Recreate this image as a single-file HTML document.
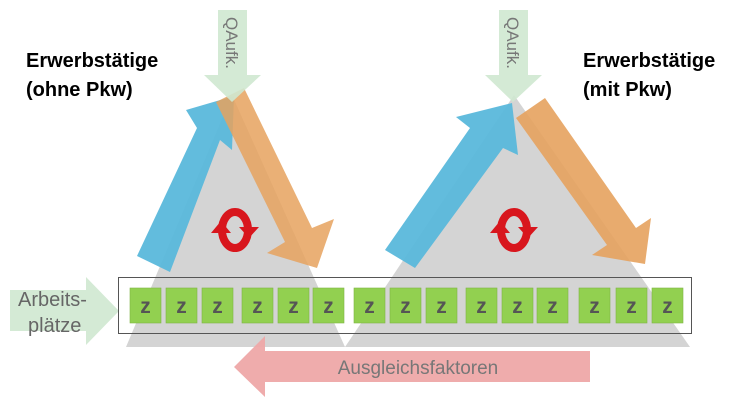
<!DOCTYPE html>
<html><head><meta charset="utf-8"><style>
html,body{margin:0;padding:0;background:#fff}
svg{display:block}
</style></head><body>
<svg width="750" height="404" viewBox="0 0 750 404" xmlns="http://www.w3.org/2000/svg" font-family="Liberation Sans, sans-serif">
<defs>
<g id="cyc">
<ellipse cx="0" cy="0" rx="13" ry="18" fill="none" stroke="#d8161d" stroke-width="8"/>
<polygon points="-24,3 -14,-9 -4,3" fill="#d8161d"/>
<polygon points="4,-3 24,-3 14,8" fill="#d8161d"/>
</g>
</defs>
<polygon points="232,95 345,347 126,347" fill="#d4d4d4"/>
<polygon points="514,95 690,347 345,347" fill="#d4d4d4"/>
<polygon points="137,256 197,128 186,110 234,96 232,150 220,140 170,272" fill="#5ab8db" opacity="0.95"/>
<polygon points="216,102 244,88 312,228 334,219 317,268 267,253 285,242" fill="#e6a25e" opacity="0.85"/>
<polygon points="385,250 470,128 456,117 512,103 518,155 503,148 415,268" fill="#5ab8db" opacity="0.95"/>
<polygon points="516,118 545,98 636,228 651,218 645,264 592,255 607,245" fill="#e6a25e" opacity="0.9"/>
<g fill="#cfe8d0" opacity="0.9">
<polygon points="218,10 247,10 247,75 261,75 232,102 204,75 218,75"/>
<polygon points="499,10 528,10 528,75 542,75 513,102 485,75 499,75"/>
</g>
<text transform="translate(226,17) rotate(90)" font-size="17" fill="#777">QAufk.</text>
<text transform="translate(507,17) rotate(90)" font-size="17" fill="#777">QAufk.</text>
<use href="#cyc" x="235" y="230"/>
<use href="#cyc" x="514" y="230"/>
<polygon points="10,290 86,290 86,277 119,311 86,345 86,331 10,331" fill="#cfe8d0" opacity="0.9"/>
<text x="18" y="306" font-size="20" fill="#666">Arbeits-</text>
<text x="28" y="332" font-size="20" fill="#666">plätze</text>
<rect x="118.5" y="277.5" width="573" height="56" fill="none" stroke="#555" stroke-width="1"/>
<g fill="#92d050" stroke="#7fb445" stroke-width="0.6">
<rect x="130" y="288" width="31" height="35"/><rect x="166" y="288" width="31" height="35"/><rect x="202" y="288" width="31" height="35"/>
<rect x="242" y="288" width="31" height="35"/><rect x="278" y="288" width="31" height="35"/><rect x="313" y="288" width="31" height="35"/>
<rect x="354" y="288" width="31" height="35"/><rect x="390" y="288" width="31" height="35"/><rect x="426" y="288" width="31" height="35"/>
<rect x="466" y="288" width="31" height="35"/><rect x="502" y="288" width="31" height="35"/><rect x="537" y="288" width="31" height="35"/>
<rect x="579" y="288" width="31" height="35"/><rect x="616" y="288" width="31" height="35"/><rect x="652" y="288" width="31" height="35"/>
</g>
<g font-size="21" font-weight="bold" fill="#555" text-anchor="middle">
<text x="145.5" y="313">z</text><text x="181.5" y="313">z</text><text x="217.5" y="313">z</text>
<text x="257.5" y="313">z</text><text x="293.5" y="313">z</text><text x="328.5" y="313">z</text>
<text x="369.5" y="313">z</text><text x="405.5" y="313">z</text><text x="441.5" y="313">z</text>
<text x="481.5" y="313">z</text><text x="517.5" y="313">z</text><text x="552.5" y="313">z</text>
<text x="594.5" y="313">z</text><text x="631.5" y="313">z</text><text x="667.5" y="313">z</text>
</g>
<polygon points="590,351 590,382 265,382 265,397 234,367 265,336 265,351" fill="#eea8a8" opacity="0.95"/>
<text x="418" y="374" font-size="19" fill="#777" text-anchor="middle">Ausgleichsfaktoren</text>
<g font-size="20" font-weight="bold" fill="#000">
<text x="26" y="67">Erwerbstätige</text>
<text x="26" y="96">(ohne Pkw)</text>
<text x="583" y="67">Erwerbstätige</text>
<text x="583" y="96">(mit Pkw)</text>
</g>
</svg>
</body></html>
